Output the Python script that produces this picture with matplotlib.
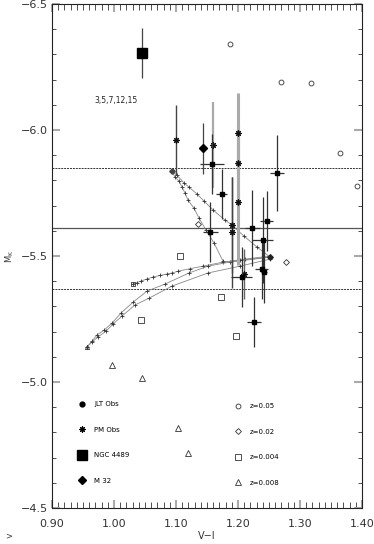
import matplotlib
matplotlib.use('Agg')
import matplotlib.pyplot as plt
from matplotlib.lines import Line2D
from matplotlib.ticker import MultipleLocator, FuncFormatter

plt.rcParams['font.family'] = 'DejaVu Sans'
plt.rcParams['mathtext.fontset'] = 'dejavusans'

# JLT observations (V-I, M_K, errors)
jlt_vi = [1.158, 1.174, 1.263, 1.246, 1.223, 1.155, 1.240, 1.238, 1.242, 1.206, 1.226]
jlt_mk = [-5.865, -5.746, -5.829, -5.639, -5.611, -5.595, -5.563, -5.448, -5.435, -5.418, -5.238]
jlt_yerr = [0.12, 0.10, 0.15, 0.12, 0.15, 0.12, 0.17, 0.12, 0.12, 0.12, 0.10]
jlt_xerr = [0.019, 0.009, 0.011, 0.011, 0.012, 0.012, 0.017, 0.011, 0.005, 0.017, 0.011]

# PM observations
pm_vi = [1.0995, 1.160, 1.1995, 1.1995, 1.1995, 1.190, 1.190, 1.210]
pm_mk = [-5.960, -5.940, -5.989, -5.868, -5.715, -5.623, -5.595, -5.429]
pm_err = [0.14, 0.17, 0.16, 0.16, 0.25, 0.19, 0.22, 0.10]
pm_ecol = ['#444444', '#aaaaaa', '#aaaaaa', '#aaaaaa', '#aaaaaa', '#444444', '#444444', '#666666']

# NGC 4489 and M 32
ngc_vi, ngc_mk, ngc_err = [1.045], [-6.306], [0.10]
m32_vi, m32_mk, m32_err = [1.144], [-5.927], [0.10]

# model points by metallicity
z05_vi = [1.187, 1.269, 1.318, 1.365, 1.392]
z05_mk = [-6.341, -6.190, -6.187, -5.909, -5.778]
z02_vi = [1.135, 1.277]
z02_mk = [-5.627, -5.476]
z004_vi = [1.106, 1.1726, 1.0435, 1.196]
z004_mk = [-5.500, -5.338, -5.246, -5.181]
z008_vi = [0.9968, 1.0447, 1.1027, 1.1198]
z008_mk = [-5.066, -5.017, -4.819, -4.719]

# model tracks
trackA_vi = [1.0935, 1.1016, 1.1129, 1.121, 1.1339, 1.1452, 1.1597, 1.179, 1.1903, 1.2097, 1.2306, 1.2516]
trackA_mk = [-5.837, -5.821, -5.790, -5.774, -5.746, -5.718, -5.683, -5.643, -5.623, -5.579, -5.536, -5.496]
trackB_vi = [1.0935, 1.0984, 1.1048, 1.1097, 1.1145, 1.1194, 1.129, 1.1371, 1.1484, 1.1613, 1.1758, 1.1871, 1.2516]
trackB_mk = [-5.837, -5.813, -5.798, -5.774, -5.750, -5.722, -5.690, -5.651, -5.603, -5.552, -5.480, -5.476, -5.496]
trackC_vi = [1.0306, 1.0371, 1.0435, 1.0532, 1.0629, 1.0742, 1.0855, 1.0935, 1.1032, 1.1226, 1.1435, 1.1758, 1.2113, 1.2516]
trackC_mk = [-5.389, -5.395, -5.401, -5.409, -5.417, -5.423, -5.429, -5.433, -5.440, -5.450, -5.460, -5.476, -5.488, -5.500]
trackD_vi = [0.9565, 0.9645, 0.9726, 0.9839, 0.9968, 1.0113, 1.0306, 1.0532, 1.0823, 1.1210, 1.1516, 1.2032, 1.2516]
trackD_mk = [-5.139, -5.163, -5.187, -5.206, -5.234, -5.274, -5.317, -5.361, -5.389, -5.433, -5.460, -5.484, -5.496]
trackE_vi = [0.9565, 0.9645, 0.9742, 0.9871, 0.9984, 1.0129, 1.0339, 1.0565, 1.0935, 1.1516, 1.2032, 1.2516]
trackE_mk = [-5.139, -5.159, -5.179, -5.202, -5.230, -5.262, -5.306, -5.333, -5.381, -5.433, -5.460, -5.488]

mk_mean = -5.61
mk_sigma = 0.24

fig = plt.figure(figsize=(3.74, 5.44), dpi=100)
ax = fig.add_axes([0.139, 0.066, 0.829, 0.9265])

# mean and +/- 1 sigma lines
ax.axhline(mk_mean, color='#555555', lw=0.9)
ax.axhline(mk_mean - mk_sigma, color='#333333', lw=0.7, ls=(0, (2, 1)))
ax.axhline(mk_mean + mk_sigma, color='#333333', lw=0.7, ls=(0, (2, 1)))

# tracks
for tv, tm in [(trackA_vi, trackA_mk), (trackB_vi, trackB_mk), (trackC_vi, trackC_mk),
               (trackD_vi, trackD_mk), (trackE_vi, trackE_mk)]:
    ax.plot(tv, tm, color='#888888', lw=0.6, marker='+', ms=3.5, mec='#333333', mew=0.6)
ax.plot(trackA_vi[:1], trackA_mk[:1], ls='none', marker='D', ms=2.8, color='#444444')
ax.plot(trackC_vi[:1], trackC_mk[:1], ls='none', marker='s', ms=3, mfc='none', mec='#333333', mew=0.6)
ax.plot(trackD_vi[:1], trackD_mk[:1], ls='none', marker='^', ms=3, mfc='none', mec='#333333', mew=0.6)
ax.plot(trackA_vi[-1:], trackA_mk[-1:], ls='none', marker='D', ms=2.8, color='#222222')

# model points
ax.plot(z05_vi, z05_mk, ls='none', marker='o', ms=3.5, mfc='none', mec='#333333', mew=0.6)
ax.plot(z02_vi, z02_mk, ls='none', marker='D', ms=3, mfc='none', mec='#333333', mew=0.6)
ax.plot(z004_vi, z004_mk, ls='none', marker='s', ms=4, mfc='none', mec='#333333', mew=0.6)
ax.plot(z008_vi, z008_mk, ls='none', marker='^', ms=4, mfc='none', mec='#333333', mew=0.6)

# PM observations
pm_lo = [m - e for m, e in zip(pm_mk, pm_err)]
pm_hi = [m + e for m, e in zip(pm_mk, pm_err)]
ax.vlines(pm_vi, pm_lo, pm_hi, colors=pm_ecol, linewidths=[1.0, 1.6, 2.2, 2.2, 2.2, 1.0, 1.0, 1.0])
ax.plot(pm_vi, pm_mk, ls='none', marker=(8, 2, 0), ms=4.5, color='#111111', mew=0.8)

# JLT observations
ax.errorbar(jlt_vi, jlt_mk, yerr=jlt_yerr, xerr=jlt_xerr, fmt='s', ms=3, color='k',
            ecolor='#333333', elinewidth=0.9, capsize=0)

# NGC 4489 and M32
ax.errorbar(ngc_vi, ngc_mk, yerr=ngc_err, fmt='s', ms=6.5, color='k', ecolor='#444444',
            elinewidth=0.9, capsize=0)
ax.errorbar(m32_vi, m32_mk, yerr=m32_err, fmt='D', ms=4.5, color='k', ecolor='#444444',
            elinewidth=0.9, capsize=0)

ax.text(1.003, -6.119, '3,5,7,12,15', fontsize=5.5, ha='center', va='center', color='#222222')

# legends
left_handles = [
    Line2D([], [], ls='none', marker='o', ms=3.5, color='k'),
    Line2D([], [], ls='none', marker=(8, 2, 0), ms=4.5, color='k', mew=0.8),
    Line2D([], [], ls='none', marker='s', ms=6.5, color='k'),
    Line2D([], [], ls='none', marker='D', ms=4.5, color='k'),
]
left_labels = ['JLT Obs', 'PM Obs', 'NGC 4489', 'M 32']
right_handles = [
    Line2D([], [], ls='none', marker='o', ms=3.5, mfc='none', mec='#333333', mew=0.6),
    Line2D([], [], ls='none', marker='D', ms=3, mfc='none', mec='#333333', mew=0.6),
    Line2D([], [], ls='none', marker='s', ms=4, mfc='none', mec='#333333', mew=0.6),
    Line2D([], [], ls='none', marker='^', ms=4, mfc='none', mec='#333333', mew=0.6),
]
right_labels = ['z=0.05', 'z=0.02', 'z=0.004', 'z=0.008']
leg1 = ax.legend(left_handles, left_labels, loc='upper left', bbox_to_anchor=(0.083, 0.212),
                 frameon=False, fontsize=5, labelspacing=2.8, handlelength=1.2,
                 handletextpad=1.2, borderpad=0, borderaxespad=0)
ax.add_artist(leg1)
ax.legend(right_handles, right_labels, loc='upper left', bbox_to_anchor=(0.585, 0.208),
          frameon=False, fontsize=5, labelspacing=2.8, handlelength=1.2,
          handletextpad=1.2, borderpad=0, borderaxespad=0)

# axes
ax.set_xlim(0.90, 1.40)
ax.set_ylim(-4.5, -6.5)
ax.xaxis.set_major_locator(MultipleLocator(0.1))
ax.xaxis.set_minor_locator(MultipleLocator(0.01))
ax.yaxis.set_major_locator(MultipleLocator(0.5))
ax.yaxis.set_minor_locator(MultipleLocator(0.1))
ax.xaxis.set_major_formatter(FuncFormatter(lambda v, p: f'{v:.2f}'))
ax.yaxis.set_major_formatter(FuncFormatter(lambda v, p: f'{v:.1f}'.replace('-', '\u2212')))
ax.tick_params(which='both', direction='in', top=True, right=True, labelsize=8,
               labelcolor='#333333')
ax.tick_params(which='major', color='#aaaaaa', width=1.5, length=6)
ax.tick_params(axis='x', which='minor', color='#333333', width=0.6, length=4)
ax.tick_params(axis='y', which='minor', color='#333333', width=0.6, length=3)
ax.tick_params(axis='x', which='major', pad=8)
ax.tick_params(axis='y', which='major', pad=3)
for s in ax.spines.values():
    s.set_color('#222222')
    s.set_linewidth(0.8)

ax.set_xlabel('V\u2212I', fontsize=7, color='#333333', labelpad=1)
ax.set_ylabel('M$_\\mathrm{K}$', fontsize=6, color='#333333', labelpad=4)
ax.yaxis.set_label_coords(-0.115, 0.5)
fig.text(0.013, 0.011, '>', fontsize=6, color='#333333')

fig.savefig('out.png', dpi=100)
